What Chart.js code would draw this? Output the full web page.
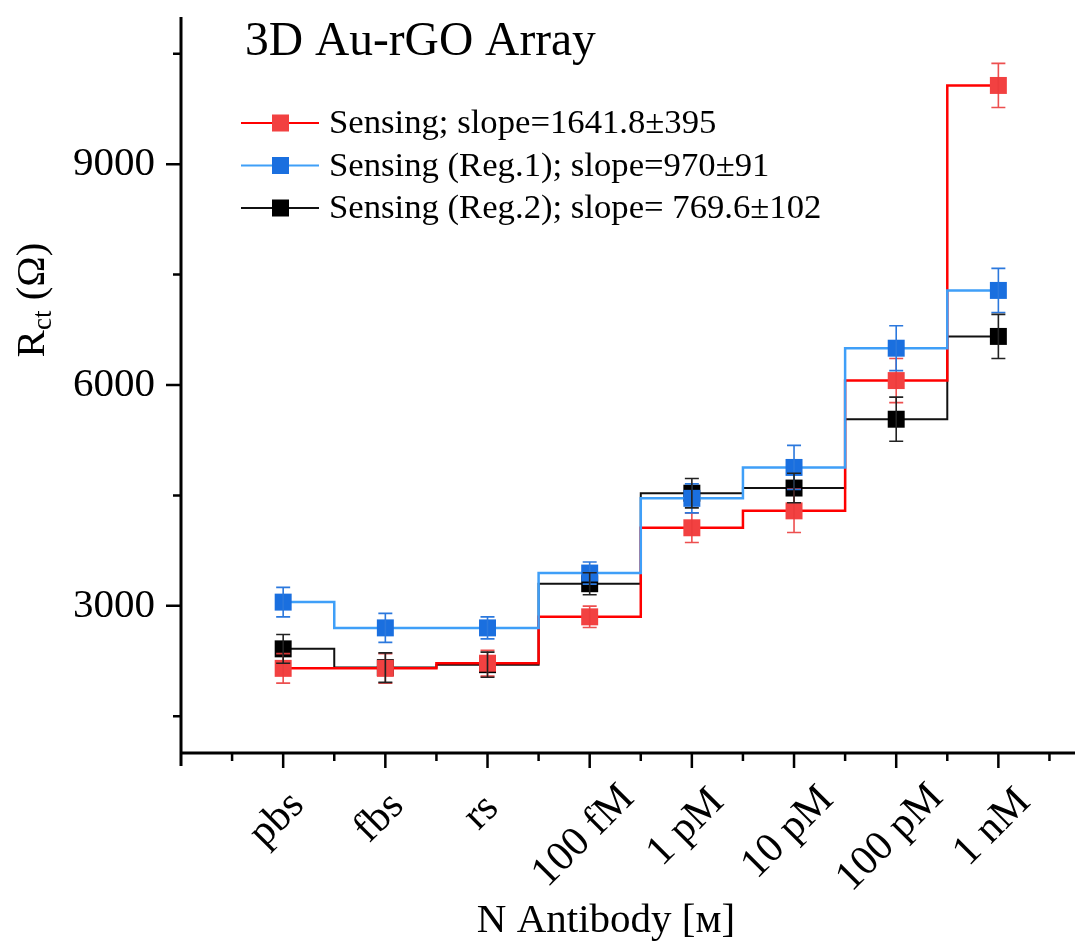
<!DOCTYPE html>
<html>
<head>
<meta charset="utf-8">
<title>3D Au-rGO Array</title>
<script src="https://cdn.jsdelivr.net/npm/chart.js@4/dist/chart.umd.min.js"></script>
<style>
  body { margin: 0; background: #fff; }
  #wrap { width: 1091px; height: 944px; }
</style>
</head>
<body>
<div id="wrap"><canvas id="chart" width="1091" height="944"></canvas></div>
<script>
const categories = ['pbs', 'fbs', 'rs', '100 fM', '1 pM', '10 pM', '100 pM', '1 nM'];

const sensing = [2150, 2150, 2220, 2850, 4060, 4290, 6060, 10070];
const sensingErr = [200, 200, 175, 145, 200, 295, 300, 300];

const reg1 = [3050, 2700, 2700, 3445, 4460, 4880, 6500, 7285];
const reg1Err = [200, 197, 150, 150, 197, 300, 305, 300];

const reg2 = [2415, 2160, 2200, 3300, 4530, 4600, 5535, 6660];
const reg2Err = [195, 200, 170, 150, 200, 200, 300, 300];

const seriesLabels = [
  'Sensing; slope=1641.8\u00b1395',
  'Sensing (Reg.1); slope=970\u00b191',
  'Sensing (Reg.2); slope= 769.6\u00b1102'
];

const yMajorTicks = [3000, 6000, 9000];
const yMinorTicks = [1500, 4500, 7500, 10500];

const FONT = '"Liberation Serif", "Times New Roman", serif';

function toPoints(values) {
  return values.map((v, i) => ({ x: i, y: v }));
}

function makeDataset(label, values, errors, lineColor, markerColor, errColor, width, order) {
  return {
    label: label,
    data: toPoints(values),
    errors: errors,
    errColor: errColor,
    borderColor: lineColor,
    borderWidth: width,
    backgroundColor: markerColor,
    pointBackgroundColor: markerColor,
    pointBorderWidth: 0,
    pointStyle: 'rect',
    pointRadius: 12,
    stepped: 'middle',
    fill: false,
    order: order
  };
}

// error bars, ticks, axis lines and all the loose text
const decorations = {
  id: 'decorations',
  afterDatasetsDraw(chart) {
    const ctx = chart.ctx;
    const xs = chart.scales.x;
    const ys = chart.scales.y;
    ctx.save();
    chart.data.datasets.forEach((ds) => {
      ctx.strokeStyle = ds.errColor;
      ctx.lineWidth = 1.6;
      ds.data.forEach((p, i) => {
        const px = xs.getPixelForValue(p.x);
        const top = ys.getPixelForValue(p.y + ds.errors[i]);
        const bot = ys.getPixelForValue(p.y - ds.errors[i]);
        ctx.beginPath();
        ctx.moveTo(px, top); ctx.lineTo(px, bot);
        ctx.moveTo(px - 7, top); ctx.lineTo(px + 7, top);
        ctx.moveTo(px - 7, bot); ctx.lineTo(px + 7, bot);
        ctx.stroke();
      });
    });
    ctx.restore();
  },
  afterDraw(chart) {
    const ctx = chart.ctx;
    const area = chart.chartArea;
    const xs = chart.scales.x;
    const ys = chart.scales.y;
    ctx.save();
    ctx.strokeStyle = '#000';
    ctx.fillStyle = '#000';

    // axis lines
    ctx.lineWidth = 3;
    ctx.beginPath();
    ctx.moveTo(area.left, area.top);
    ctx.lineTo(area.left, area.bottom + 13);
    ctx.moveTo(area.left, area.bottom);
    ctx.lineTo(area.right, area.bottom);
    ctx.stroke();

    // y ticks
    ctx.lineWidth = 2.5;
    ctx.beginPath();
    yMajorTicks.forEach(v => {
      const py = ys.getPixelForValue(v);
      ctx.moveTo(area.left - 15, py); ctx.lineTo(area.left, py);
    });
    yMinorTicks.forEach(v => {
      const py = ys.getPixelForValue(v);
      ctx.moveTo(area.left - 8, py); ctx.lineTo(area.left, py);
    });
    // x ticks
    categories.forEach((c, i) => {
      const px = xs.getPixelForValue(i);
      ctx.moveTo(px, area.bottom); ctx.lineTo(px, area.bottom + 15);
      const mx = xs.getPixelForValue(i - 0.5);
      ctx.moveTo(mx, area.bottom); ctx.lineTo(mx, area.bottom + 8);
    });
    const lastMinor = xs.getPixelForValue(categories.length - 0.5);
    ctx.moveTo(lastMinor, area.bottom); ctx.lineTo(lastMinor, area.bottom + 8);
    ctx.stroke();

    // x tick labels, rotated 45 deg under the tick
    ctx.font = '42px ' + FONT;
    ctx.textAlign = 'center';
    ctx.textBaseline = 'middle';
    categories.forEach((c, i) => {
      const px = xs.getPixelForValue(i);
      const w = ctx.measureText(c).width;
      ctx.save();
      ctx.translate(px - 6, area.bottom + 52 + w * 0.25);
      ctx.rotate(-Math.PI / 4);
      ctx.fillText(c, 0, 0);
      ctx.restore();
    });

    // x axis title
    ctx.textAlign = 'center';
    ctx.textBaseline = 'alphabetic';
    ctx.font = '41px ' + FONT;
    ctx.fillText('N Antibody [\u1d0d]', 606, 932);

    // y axis title with subscript
    ctx.save();
    ctx.translate(44, 300);
    ctx.rotate(-Math.PI / 2);
    ctx.textAlign = 'left';
    const big = '41px ' + FONT;
    const small = '27px ' + FONT;
    ctx.font = big;
    const wR = ctx.measureText('R').width;
    const wRest = ctx.measureText(' (\u03a9)').width;
    ctx.font = small;
    const wSub = ctx.measureText('ct').width;
    let x0 = -(wR + wSub + wRest) / 2;
    ctx.font = big;
    ctx.fillText('R', x0, 0);
    ctx.font = small;
    ctx.fillText('ct', x0 + wR, 7);
    ctx.font = big;
    ctx.fillText(' (\u03a9)', x0 + wR + wSub, 0);
    ctx.restore();

    // title
    ctx.textAlign = 'left';
    ctx.font = '47.5px ' + FONT;
    ctx.fillText('3D Au-rGO Array', 245, 55);

    // legend
    ctx.font = '34.7px ' + FONT;
    ctx.textBaseline = 'middle';
    chart.data.datasets.forEach((ds, i) => {
      const ly = 123 + i * 42.5;
      ctx.strokeStyle = ds.borderColor;
      ctx.lineWidth = 2;
      ctx.beginPath();
      ctx.moveTo(241, ly); ctx.lineTo(319, ly);
      ctx.stroke();
      ctx.fillStyle = ds.backgroundColor;
      ctx.fillRect(272, ly - 8.5, 17, 17);
      ctx.fillStyle = '#000';
      ctx.fillText(ds.label, 329, ly + 1);
    });
    ctx.restore();
  }
};

const ctx = document.getElementById('chart').getContext('2d');

const chart = new Chart(ctx, {
  type: 'line',
  data: {
    datasets: [
      makeDataset(seriesLabels[0], sensing, sensingErr, '#ff0000', '#f24141', 'rgba(235,60,60,0.9)', 2.5, 1),
      makeDataset(seriesLabels[1], reg1, reg1Err, '#3f9ff8', '#1a6fdf', '#2b78dd', 2.5, 0),
      makeDataset(seriesLabels[2], reg2, reg2Err, '#111111', '#000000', '#222222', 2, 2)
    ]
  },
  options: {
    responsive: false,
    animation: false,
    layout: { padding: { top: 17, right: 16, left: 0, bottom: 0 } },
    plugins: {
      legend: { display: false },
      tooltip: { enabled: false }
    },
    scales: {
      x: {
        type: 'linear',
        min: -1,
        max: 7.75,
        afterFit: (s) => { s.height = 191; s.paddingLeft = 0; s.paddingRight = 0; },
        grid: { display: false, drawTicks: false },
        border: { display: false },
        ticks: { display: false }
      },
      y: {
        min: 1000,
        max: 11000,
        afterBuildTicks: (s) => { s.ticks = yMajorTicks.map(v => ({ value: v })); },
        afterFit: (s) => { s.width = 181; s.paddingTop = 0; s.paddingBottom = 0; },
        grid: { display: false, drawTicks: false },
        border: { display: false },
        ticks: {
          padding: 26,
          color: '#000',
          font: { family: FONT, size: 41 },
          callback: (v) => String(v)
        }
      }
    }
  },
  plugins: [decorations]
});
</script>
</body>
</html>
